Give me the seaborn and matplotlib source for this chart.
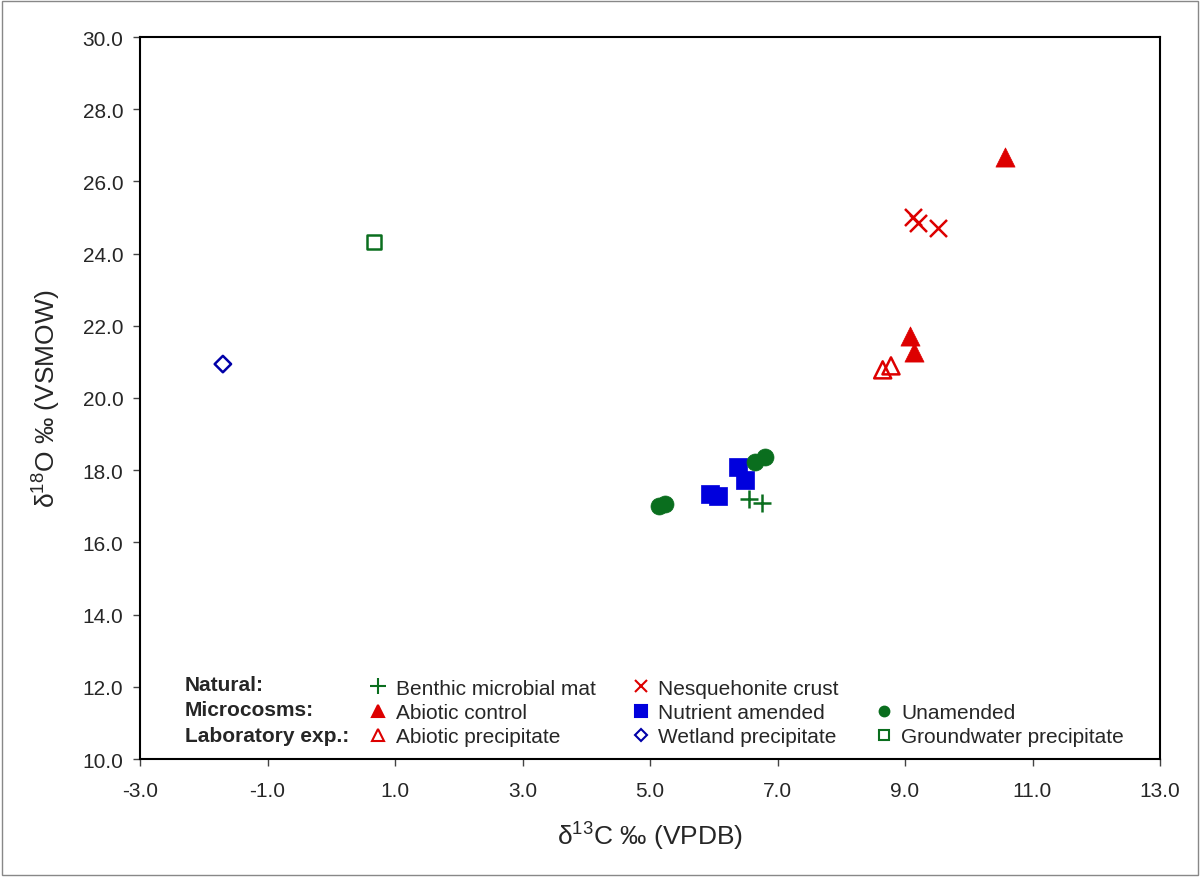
import numpy as np
import pandas as pd
import matplotlib
matplotlib.use('Agg')
import matplotlib.pyplot as plt
import seaborn as sns
from matplotlib.lines import Line2D
from matplotlib.patches import Rectangle

# Isotope data (d13C VPDB, d18O VSMOW)
benthic_x = [6.55, 6.76]
benthic_y = [17.20, 17.08]
nesq_x = [9.13, 9.20, 9.52]
nesq_y = [25.01, 24.85, 24.71]
abiotic_ctrl_x = [10.57, 9.08, 9.14]
abiotic_ctrl_y = [26.68, 21.72, 21.27]
nutrient_x = [5.94, 6.07, 6.38, 6.49]
nutrient_y = [17.34, 17.29, 18.09, 17.73]
unamended_x = [5.14, 5.24, 6.65, 6.80]
unamended_y = [17.00, 17.06, 18.22, 18.37]
abiotic_prec_x = [8.65, 8.78]
abiotic_prec_y = [20.78, 20.89]
wetland_x = [-1.70]
wetland_y = [20.94]
groundwater_x = [0.67]
groundwater_y = [24.32]

RED = '#dd0000'
GREEN = '#0a6e1e'
BLUE = '#0000dd'
DBLUE = '#0000a8'

sns.set_style('ticks')
plt.rcParams['font.family'] = ['Liberation Sans', 'DejaVu Sans']
plt.rcParams['mathtext.fontset'] = 'custom'
plt.rcParams['mathtext.rm'] = 'Liberation Sans'
plt.rcParams['mathtext.it'] = 'Liberation Sans:italic'

fig = plt.figure(figsize=(12, 8.78), dpi=100)
ax = fig.add_axes([140 / 1200, 1 - 760 / 878, 1020 / 1200, 722 / 878])

series = [
    (benthic_x, benthic_y, '+', GREEN, True, 170),
    (nesq_x, nesq_y, 'x', RED, True, 150),
    (abiotic_prec_x, abiotic_prec_y, '^', RED, False, 150),
    (wetland_x, wetland_y, 'D', DBLUE, False, 70),
    (groundwater_x, groundwater_y, 's', GREEN, False, 110),
    (abiotic_ctrl_x, abiotic_ctrl_y, '^', RED, 'fill', 190),
    (nutrient_x, nutrient_y, 's', BLUE, 'fill', 150),
    (unamended_x, unamended_y, 'o', GREEN, 'fill', 150),
]
for xs, ys, m, c, fill, s in series:
    df = pd.DataFrame({'x': xs, 'y': ys})
    if fill is True:  # line markers
        sns.scatterplot(data=df, x='x', y='y', marker=m, color=c, s=s,
                        linewidth=1.8, ax=ax, zorder=3)
    elif fill == 'fill':
        sns.scatterplot(data=df, x='x', y='y', marker=m, color=c, s=s,
                        edgecolor=c, linewidth=0.5, ax=ax, zorder=3)
    else:
        sns.scatterplot(data=df, x='x', y='y', marker=m, s=s,
                        facecolor='none', edgecolor=c, linewidth=1.8,
                        ax=ax, zorder=3)

ax.set_xlim(-3, 13)
ax.set_ylim(10, 30)
ax.set_xticks(np.arange(-3, 13.1, 2))
ax.set_yticks(np.arange(10, 30.1, 2))
ax.xaxis.set_major_formatter(matplotlib.ticker.FormatStrFormatter('%.1f'))
ax.yaxis.set_major_formatter(matplotlib.ticker.FormatStrFormatter('%.1f'))
ax.tick_params(labelsize=15, length=5, width=1.0, color='#444444', direction='out')
ax.tick_params(axis='x', pad=11)
ax.tick_params(axis='y', pad=7)
for sp in ax.spines.values():
    sp.set_linewidth(1.5)
    sp.set_color('black')

ax.set_xlabel(r'δ$^{13}$C ‰ (VPDB)', fontsize=19, labelpad=14)
ax.set_ylabel(r'δ$^{18}$O ‰ (VSMOW)', fontsize=19, labelpad=14)

# legend
def h(m, c, filled, ms=9, mew=1.5):
    return Line2D([], [], ls='none', marker=m, markersize=ms, markeredgewidth=mew,
                  color=c, markerfacecolor=c if filled else 'none', markeredgecolor=c)

blank = Line2D([], [], ls='none')
handles = [h('+', GREEN, True, 11, 1.5), h('^', RED, True), h('^', RED, False, 8),
           h('x', RED, True, 9, 1.5), h('s', BLUE, True, 8), h('D', DBLUE, False, 6),
           blank, h('o', GREEN, True, 7), h('s', GREEN, False, 7)]
labels = ['Benthic microbial mat', 'Abiotic control', 'Abiotic precipitate',
          'Nesquehonite crust', 'Nutrient amended', 'Wetland precipitate',
          '', 'Unamended', 'Groundwater precipitate']
leg = ax.legend(handles, labels, ncol=3, frameon=False, fontsize=15,
                loc='lower left', bbox_to_anchor=(0.2235, 0.018),
                borderaxespad=0, borderpad=0,
                handlelength=1.0, handletextpad=0.35, columnspacing=1.65,
                labelspacing=0.25)

for txt, yy in [('Natural:', 686), ('Microcosms:', 711), ('Laboratory exp.:', 736)]:
    fig.text(185 / 1200, 1 - yy / 878, txt, fontsize=15, fontweight='bold',
             ha='left', va='center')

fig.patches.append(Rectangle((0.002, 0.002), 0.996, 0.996, transform=fig.transFigure,
                             fill=False, edgecolor='#888888', linewidth=1))

fig.savefig('out.png', dpi=100)
